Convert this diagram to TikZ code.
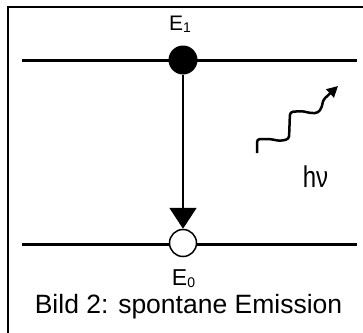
\documentclass[tikz,border=0pt]{standalone}
\usepackage{fontspec}
\setmainfont{Liberation Sans}
\usetikzlibrary{arrows.meta}
\begin{document}
\begin{tikzpicture}[x=1pt,y=-1pt,
  level/.style={line width=3pt},
  frameline/.style={line width=2.2pt},
  transition/.style={line width=2pt,-{Triangle[width=27pt,length=21pt]}},
  photon/.style={line width=2.5pt,rounded corners=3pt,-{Triangle[width=11pt,length=11pt]}},
  lbl/.style={inner sep=0pt,anchor=base}]
\useasboundingbox (0,0) rectangle (363,332);
\fill[white] (0,0) rectangle (363,332);
% frame (open to the right and bottom, cropped)
\coordinate (fbl) at (8,345);
\coordinate (ftl) at (8,7);
\coordinate (ftr) at (375,7);
\draw[frameline] (fbl) -- (ftl) -- (ftr);
% energy levels
\coordinate (l1a) at (22,60);
\coordinate (l1b) at (357,60);
\coordinate (l0a) at (22,244);
\coordinate (l0b) at (357,244);
\draw[level] (l1a) -- (l1b);
\draw[level] (l0a) -- (l0b);
% states
\node[circle,fill=black,minimum size=29pt,inner sep=0pt] (up) at (183,60) {};
\node[circle,draw=black,fill=white,line width=1.5pt,minimum size=27pt,inner sep=0pt] (lo) at (183,243) {};
\draw[transition] (up) -- (lo);
% labels
\node[lbl] (e1) at (180,30) {\fontsize{21}{25}\selectfont E\raisebox{-2pt}{\fontsize{14}{16}\selectfont 1}};
\node[lbl] (e0) at (183.5,285) {\fontsize{23}{27}\selectfont E\raisebox{-2pt}{\fontsize{14}{16}\selectfont 0}};
\node[lbl] (cap) at (188.5,313) {\fontsize{26.5}{30}\selectfont Bild 2: spontane Emission};
% photon
\coordinate (ph0) at (257,153);
\coordinate (ph1) at (338,86);
\draw[photon] (ph0) -- (257,139) -- (270,139) -- (280,141) -- (289,139) -- (290,112) -- (302,111) -- (310,113) -- (318,113) -- (322,107) -- (323,100) -- (ph1);
\node[lbl,xscale=0.8] (hv) at (315.5,187) {\fontsize{30}{34}\selectfont hν};
\end{tikzpicture}
\end{document}
